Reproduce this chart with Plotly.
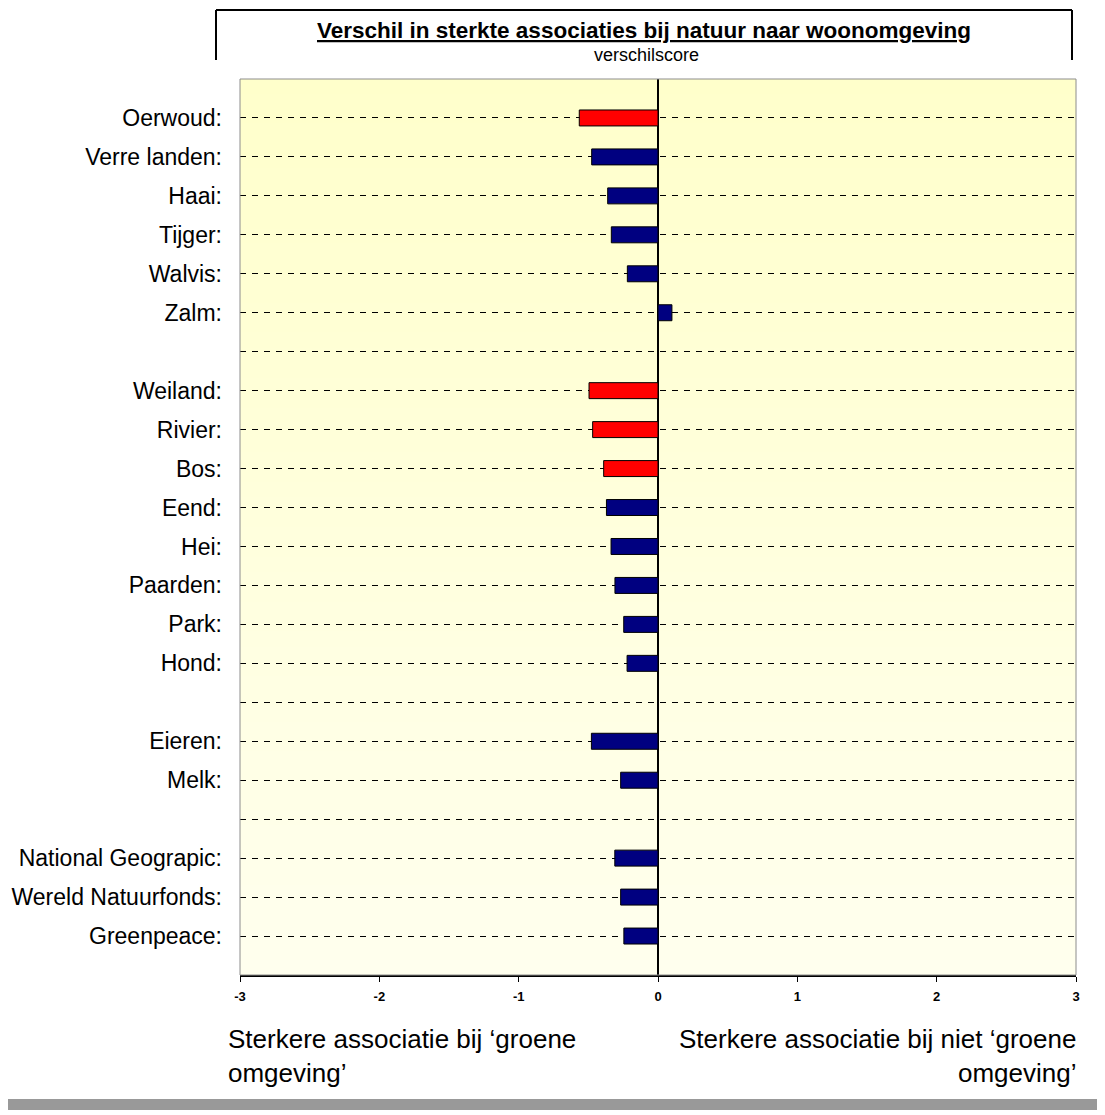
import plotly.graph_objects as go

# ---------------- data ----------------
categories = ["Oerwoud:", "Verre landen:", "Haai:", "Tijger:", "Walvis:", "Zalm:", "",
              "Weiland:", "Rivier:", "Bos:", "Eend:", "Hei:", "Paarden:", "Park:", "Hond:", "",
              "Eieren:", "Melk:", "",
              "National Geograpic:", "Wereld Natuurfonds:", "Greenpeace:"]
values = [-0.565, -0.476, -0.361, -0.335, -0.22, 0.10, None,
          -0.495, -0.469, -0.39, -0.37, -0.337, -0.309, -0.246, -0.222, None,
          -0.478, -0.268, None,
          -0.31, -0.268, -0.245]
highlight = [True, False, False, False, False, False, False,
             True, True, True, False, False, False, False, False, False,
             False, False, False,
             False, False, False]
x_ticks = [-3, -2, -1, 0, 1, 2, 3]
title_text = "Verschil in sterkte associaties bij natuur naar woonomgeving"
subtitle_text = "verschilscore"
left_note = "Sterkere associatie bij \u2018groene<br>omgeving\u2019"
right_note = "Sterkere associatie bij niet \u2018groene<br>omgeving\u2019"

RED = "#FF0000"
NAVY = "#000080"
FONT = "Liberation Sans, Arial, sans-serif"

W, H = 1105, 1115
OFF = 8  # default page body margin
L, R, T, B = 240, 1076, 79, 975


def px(xp):
    return (xp - L) / (R - L)


def py(yp):
    return (B - yp) / (B - T)


idx = list(range(len(categories)))
colors = [RED if h else NAVY for h in highlight]

fig = go.Figure()
fig.add_trace(go.Bar(
    x=values, y=idx, orientation="h",
    marker=dict(color=colors, line=dict(color="#000000", width=1)),
    width=0.41, hoverinfo="x+y",
))

shapes = []
# gradient background of the plot area
n = 60
top_c = (255, 255, 203)
bot_c = (255, 255, 238)
for i in range(n):
    t = i / (n - 1)
    c = tuple(round(top_c[k] + (bot_c[k] - top_c[k]) * t) for k in range(3))
    shapes.append(dict(type="rect", xref="paper", yref="paper",
                       x0=0, x1=1, y0=max(0, 1 - (i + 1) / n - 0.002), y1=1 - i / n,
                       fillcolor="rgb(%d,%d,%d)" % c, line=dict(width=0), layer="below"))
# plot area border (gray)
shapes.append(dict(type="rect", xref="paper", yref="paper", x0=0, x1=1, y0=0, y1=1,
                   line=dict(color="#8C8C8C", width=1), fillcolor="rgba(0,0,0,0)", layer="above"))
# title frame (open at bottom)
fx0, fx1, fy0, fy1 = px(216), px(1072), py(10), py(60)
shapes.append(dict(type="line", xref="paper", yref="paper", x0=fx0, x1=fx1, y0=fy0, y1=fy0,
                   line=dict(color="#000000", width=2)))
shapes.append(dict(type="line", xref="paper", yref="paper", x0=fx0, x1=fx0, y0=fy0, y1=fy1,
                   line=dict(color="#000000", width=2)))
shapes.append(dict(type="line", xref="paper", yref="paper", x0=fx1, x1=fx1, y0=fy0, y1=fy1,
                   line=dict(color="#000000", width=2)))
# outer gray edges (right + bottom)
shapes.append(dict(type="rect", xref="paper", yref="paper", x0=px(1100), x1=px(1106),
                   y0=py(1110), y1=py(0), fillcolor="#999999", line=dict(width=0)))
shapes.append(dict(type="rect", xref="paper", yref="paper", x0=px(0), x1=px(1106),
                   y0=py(1110), y1=py(1099), fillcolor="#999999", line=dict(width=0)))

annotations = [
    dict(text="<b><u>" + title_text + "</u></b>", xref="paper", yref="paper",
         x=px(644), y=py(30), xanchor="center", yanchor="middle", showarrow=False,
         font=dict(family=FONT, size=22.5, color="#000000")),
    dict(text=subtitle_text, xref="paper", yref="paper",
         x=px(646), y=py(55), xanchor="center", yanchor="middle", showarrow=False,
         font=dict(family=FONT, size=18, color="#000000")),
    dict(text=left_note, xref="paper", yref="paper", align="left",
         x=px(226), y=py(1022), xanchor="left", yanchor="top", showarrow=False,
         font=dict(family=FONT, size=26, color="#000000")),
    dict(text=right_note, xref="paper", yref="paper", align="right",
         x=px(1078), y=py(1022), xanchor="right", yanchor="top", showarrow=False,
         font=dict(family=FONT, size=26, color="#000000")),
]

fig.update_layout(
    width=W - OFF, height=H - OFF,
    margin=dict(l=L - OFF, r=W - R, t=T - OFF, b=H - B, pad=0, autoexpand=False),
    paper_bgcolor="#FFFFFF",
    plot_bgcolor="#FFFFEE",
    showlegend=False,
    shapes=shapes,
    annotations=annotations,
    xaxis=dict(
        range=[-3, 3], tickvals=x_ticks, ticktext=[str(v) for v in x_ticks],
        showgrid=False, zeroline=True, zerolinecolor="#000000", zerolinewidth=1.5,
        showline=True, linecolor="#000000", linewidth=1.5,
        ticks="outside", ticklen=5, tickcolor="#000000", tickwidth=1,
        tickfont=dict(family=FONT, size=13, color="#000000", weight="bold"),
        ticklabelstandoff=4, fixedrange=True, automargin=False,
    ),
    yaxis=dict(
        range=[len(categories), -1], tickvals=idx, ticktext=categories,
        showgrid=True, gridcolor="#000000", gridwidth=1, griddash="6px,6px",
        zeroline=False, showline=False, ticks="",
        tickfont=dict(family=FONT, size=23, color="#000000"),
        ticklabelstandoff=17, fixedrange=True, automargin=False,
    ),
    font=dict(family=FONT, color="#000000"),
)

fig.write_html("out.html")
